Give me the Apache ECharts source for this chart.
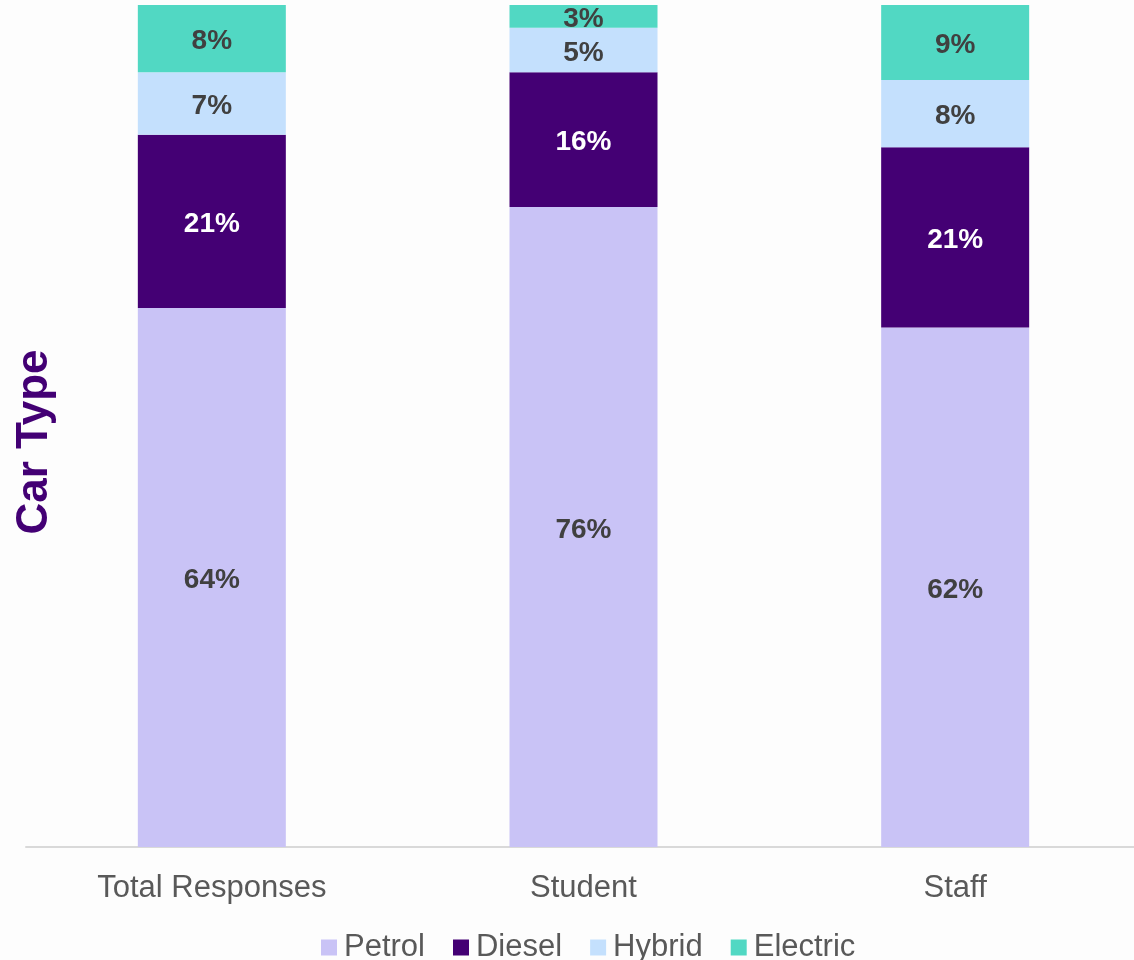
<!DOCTYPE html>
<html>
<head>
<meta charset="utf-8">
<script src="https://cdn.jsdelivr.net/npm/echarts@6/dist/echarts.min.js"></script>
<style>
html,body{margin:0;padding:0;background:#fdfdfd;}
#chart{width:1134px;height:960px;}
</style>
</head>
<body>
<div id="chart"></div>
<script>
const categories = ['Total Responses', 'Student', 'Staff'];
const petrol = [64.0, 76.0, 61.7];
const diesel = [20.6, 16.0, 21.4];
const hybrid = [7.4, 5.3, 8.0];
const electric = [8.0, 2.7, 8.9];

const chart = echarts.init(document.getElementById('chart'));
const labelFont = {show: true, position: 'inside', offset: [0, 3], fontFamily: 'Liberation Sans, Arial', fontWeight: 'bold', fontSize: 28, formatter: p => Math.round(p.value) + '%'};
function mk(name, data, color, labelColor) {
  return {
    name, type: 'bar', stack: 'a', data, barWidth: 148,
    itemStyle: {color},
    label: Object.assign({}, labelFont, {color: labelColor}),
    emphasis: {disabled: true}
  };
}
chart.setOption({
  backgroundColor: '#fdfdfd',
  animation: false,
  grid: {left: 26, width: 1115, top: 5, bottom: 113, outerBoundsMode: 'none', containLabel: false},
  legend: {
    top: 932, left: 321, padding: 0, itemWidth: 16, itemHeight: 16, itemGap: 28,
    icon: 'rect',
    textStyle: {fontFamily: 'Liberation Sans, Arial', fontSize: 31, color: '#595959', padding: [0,0,0,2]},
    data: ['Petrol', 'Diesel', 'Hybrid', 'Electric']
  },
  xAxis: {
    type: 'category', data: categories,
    axisLine: {lineStyle: {color: '#d9d9d9', width: 2}},
    axisTick: {show: false},
    axisLabel: {fontFamily: 'Liberation Sans, Arial', fontSize: 31, color: '#595959', margin: 26}
  },
  yAxis: {
    type: 'value', min: 0, max: 100, show: false
  },
  graphic: [{
    type: 'text', x: 35, y: 442, rotation: Math.PI / 2,
    style: {text: 'Car Type', fontFamily: 'Liberation Sans, Arial', fontWeight: 'bold', fontSize: 44, fill: '#430074', align: 'center', verticalAlign: 'middle'}
  }],
  series: [
    mk('Petrol', petrol, '#c9c3f6', '#404040'),
    mk('Diesel', diesel, '#440074', '#ffffff'),
    mk('Hybrid', hybrid, '#c4e0fd', '#404040'),
    mk('Electric', electric, '#51d8c3', '#404040')
  ]
});
</script>
</body>
</html>
